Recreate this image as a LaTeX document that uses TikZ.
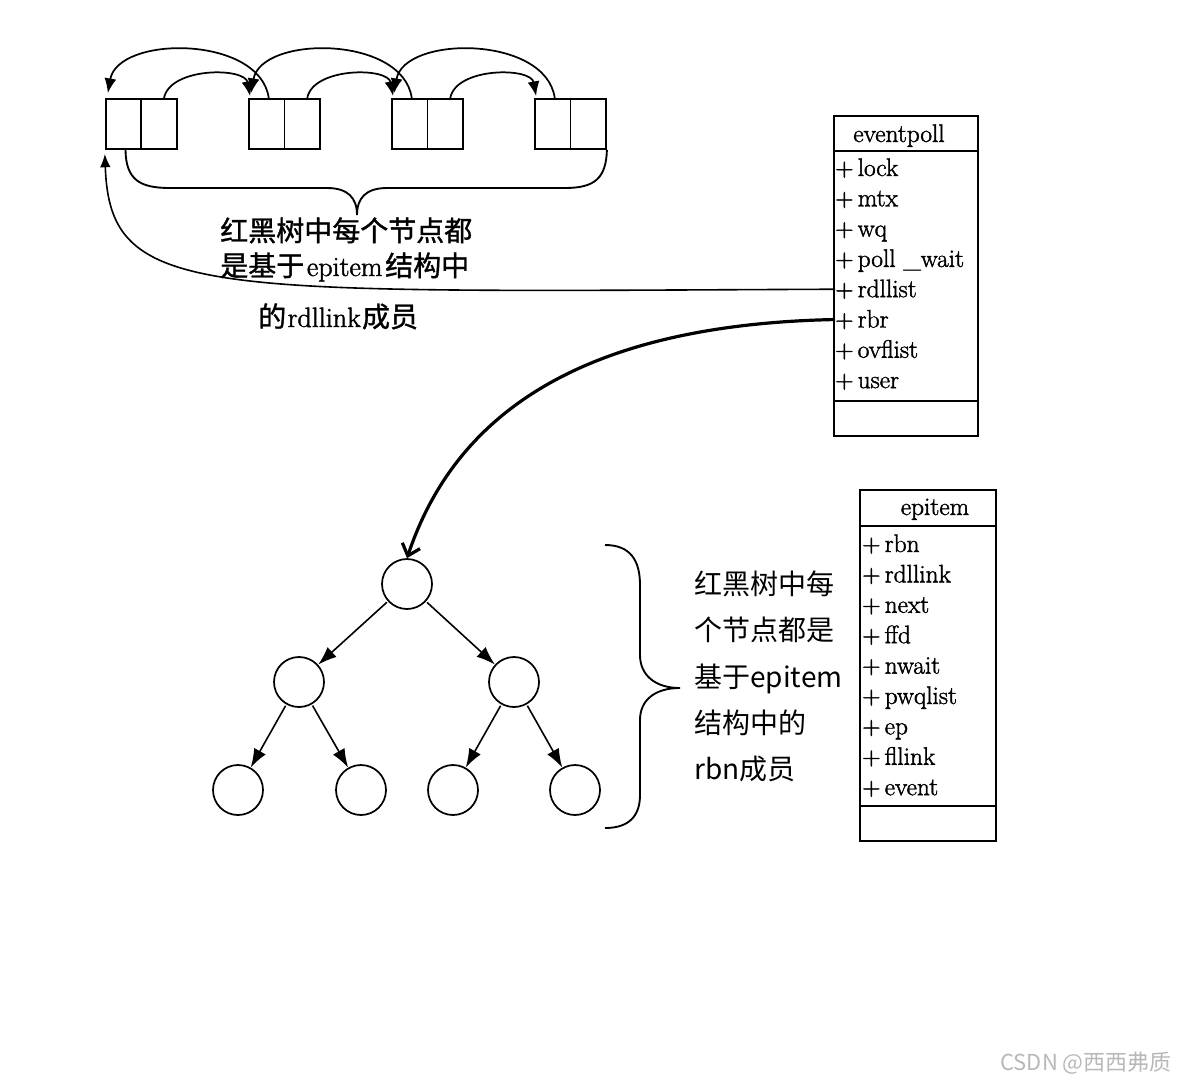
\documentclass[tikz,border=0pt]{standalone}
\usepackage{fontspec}
\setmainfont{Latin Modern Roman}[FakeBold=1.6]
\newfontfamily\cjk{Noto Sans CJK SC}
\newfontfamily\cjkb{Noto Sans CJK SC}[FakeBold=1.2]
\usetikzlibrary{arrows.meta,calc}
\begin{document}
\begin{tikzpicture}[x=0.75pt,y=-0.75pt,
  cell/.style={draw,line width=1.4pt,minimum width=26.6pt,minimum height=37.5pt,inner sep=0pt},
  link/.style={line width=1.3pt,-{Latex[length=11pt,width=9pt]}},
  tnode/.style={circle,draw,line width=1.3pt,minimum size=37.5pt,inner sep=0pt},
  tedge/.style={line width=1.2pt,shorten <=1pt,-{Latex[length=14pt,width=10pt]}},
  umlbox/.style={draw,line width=1.4pt,inner sep=0pt},
  sep/.style={line width=1.4pt},
  field/.style={anchor=base west,inner sep=0pt,font=\fontsize{19}{22}\selectfont},
  umltitle/.style={anchor=base,inner sep=0pt,font=\fontsize{19}{22}\selectfont},
  labA/.style={anchor=base west,inner sep=0pt,font=\fontsize{21}{25}\selectfont},
  labB/.style={anchor=base west,inner sep=0pt,font=\cjk\fontsize{21}{25}\selectfont},
  brace/.style={line width=1.4pt},
]
\useasboundingbox (0,0) rectangle (1178,1083);

% linked list cells
\node[cell] (a1) at (123.5,124) {};
\node[cell] (a2) at (159,124) {};
\node[cell] (b1) at (266.75,124) {};
\node[cell] (b2) at (302.25,124) {};
\node[cell] (c1) at (409.75,124) {};
\node[cell] (c2) at (445.25,124) {};
\node[cell] (d1) at (552.75,124) {};
\node[cell] (d2) at (588.25,124) {};

% forward links
\draw[link] ($(a2.north)+(5,0)$) .. controls (170,67) and (245,67) .. ($(b1.north west)+(2,-2)$);
\draw[link] ($(b2.north)+(5,0)$) .. controls (313,67) and (388,67) .. ($(c1.north west)+(2,-2)$);
\draw[link] ($(c2.north)+(5,0)$) .. controls (456,67) and (531,67) .. ($(d1.north west)+(2,-2)$);
% backward links
\draw[link] ($(b1.north)+(2,0)$) .. controls (260,35) and (118,35) .. ($(a1.north west)+(3,-5)$);
\draw[link] ($(c1.north)+(2,0)$) .. controls (403,35) and (261,35) .. ($(b1.north west)+(3,-5)$);
\draw[link] ($(d1.north)+(2,0)$) .. controls (546,35) and (404,35) .. ($(c1.north west)+(3,-5)$);

% top brace
\coordinate (btip) at (357,215);
\draw[brace] ($(a1.south)+(2,0)$) .. controls (126,180) and (140,188) .. (170,188) -- (327,188)
  .. controls (348,188) and (357,198) .. (btip)
  .. controls (357,198) and (366,188) .. (387,188) -- (565,188)
  .. controls (595,188) and (606,178) .. (d2.south east);

% top-left label
\node[labA] (t1) at (220,241) {{\cjkb 红黑树中每个节点都}};
\node[labA] (t2) at (220,276) {{\cjkb 是基于}\hspace{2pt}epitem\hspace{2pt}{\cjkb 结构中}};
\node[labA] (t3) at (258,327) {{\cjkb 的}\hspace{1pt}rdllink\hspace{1pt}{\cjkb 成员}};

% eventpoll box
\node[umlbox,minimum width=108pt,minimum height=240pt] (ep) at (906,276) {};
\draw[sep] ($(ep.north west)+(0,36)$) -- ($(ep.north east)+(0,36)$);
\draw[sep] ($(ep.south west)+(0,-36)$) -- ($(ep.south east)+(0,-36)$);
\node[umltitle] (ept) at (899,142) {eventpoll};
\node[field] (ep-lock) at (835,176) {+\,lock};
\node[field] (ep-mtx) at (835,206.3) {+\,mtx};
\node[field] (ep-wq) at (835,236.6) {+\,wq};
\node[field] (ep-pw) at (835,266.9) {+\,poll \_wait};
\node[field] (ep-rdllist) at (835,297.2) {+\,rdllist};
\node[field] (ep-rbr) at (835,327.5) {+\,rbr};
\node[field] (ep-ovflist) at (835,357.8) {+\,ovflist};
\node[field] (ep-user) at (835,388.1) {+\,user};

% epitem box
\node[umlbox,minimum width=102pt,minimum height=263.25pt] (ei) at (928,665.5) {};
\draw[sep] ($(ei.north west)+(0,37)$) -- ($(ei.north east)+(0,37)$);
\draw[sep] ($(ei.south west)+(0,-36)$) -- ($(ei.south east)+(0,-36)$);
\node[umltitle] (eit) at (935,515) {epitem};
\node[field] (ei-rbn) at (862,552) {+\,rbn};
\node[field] (ei-rdllink) at (862,582.4) {+\,rdllink};
\node[field] (ei-next) at (862,612.8) {+\,next};
\node[field] (ei-ffd) at (862,643.2) {+\,ffd};
\node[field] (ei-nwait) at (862,673.6) {+\,nwait};
\node[field] (ei-pwqlist) at (862,704) {+\,pwqlist};
\node[field] (ei-ep) at (862,734.4) {+\,ep};
\node[field] (ei-fllink) at (862,764.8) {+\,fllink};
\node[field] (ei-event) at (862,795.2) {+\,event};

% tree
\node[tnode] (r) at (407,584) {};
\node[tnode] (l) at (299,682) {};
\node[tnode] (rr) at (514,682) {};
\node[tnode] (ll) at (238,790) {};
\node[tnode] (lr) at (361,790) {};
\node[tnode] (rl) at (453,790) {};
\node[tnode] (rrr) at (575,790) {};
\draw[tedge] (r) -- (l);
\draw[tedge] (r) -- (rr);
\draw[tedge] (l) -- (ll);
\draw[tedge] (l) -- (lr);
\draw[tedge] (rr) -- (rl);
\draw[tedge] (rr) -- (rrr);

% long arrows
\draw[line width=1.2pt,-{Latex[length=10pt,width=8pt]}] (ep-rdllist.west) .. controls (200,292) and (110,300) .. ($(a1.south west)+(0,4)$);
\draw[line width=2.4pt,-{Straight Barb[length=8pt,width=14pt]}] (ep-rbr.west) .. controls (560,325) and (450,430) .. (r.north);

% right brace
\coordinate (rbtop) at (605,545);
\coordinate (rbtip) at (680,688);
\coordinate (rbbot) at (605,828);
\draw[brace] (rbtop) .. controls (630,545) and (640,560) .. (640,585) -- (640,655)
  .. controls (640,675) and (655,688) .. (rbtip)
  .. controls (655,688) and (640,700) .. (640,720) -- (640,795)
  .. controls (640,815) and (630,828) .. (rbbot);

% right label
\node[labB] (r1) at (694,594) {红黑树中每};
\node[labB] (r2) at (694,640) {个节点都是};
\node[labB] (r3) at (694,687) {基于epitem};
\node[labB] (r4) at (694,733) {结构中的};
\node[labB] (r5) at (694,779) {rbn成员};

% watermark
\node[anchor=base east,inner sep=0pt,text=black!28,font=\cjk\fontsize{16.5}{20}\selectfont] (wm) at (1172,1070) {CSDN @西西弗质};
\end{tikzpicture}
\end{document}
